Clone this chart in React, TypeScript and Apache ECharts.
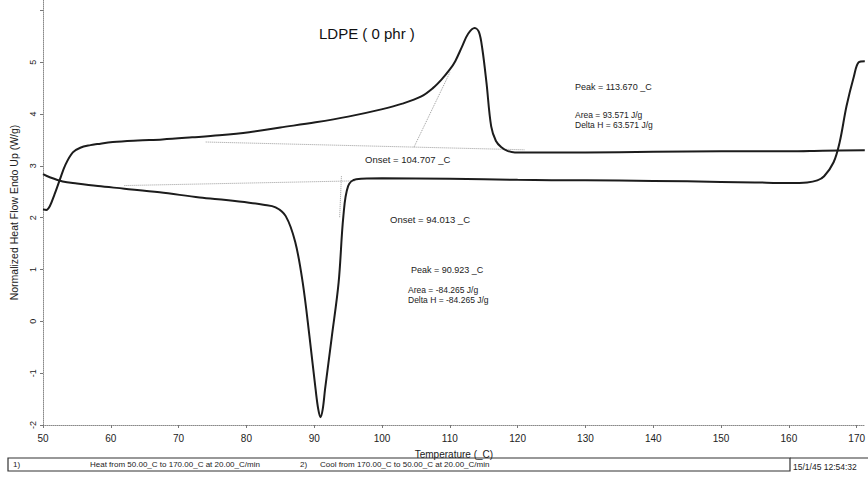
import React, { useEffect, useRef } from "react";
import * as echarts from "echarts";

// Heating scan (50 -> 170 °C), normalized heat flow, endo up
const heatTemp = [
  50.0, 50.5, 51.0, 51.7, 52.5, 53.3, 54.4, 55.5, 57.0, 58.0, 60.3, 64.0, 67.6, 72.0, 76.0,
  80.4, 85.0, 90.2, 95.0, 99.9, 103.0, 105.8, 107.5, 108.8, 110.0, 110.8, 111.8, 112.7,
  113.67, 114.3, 114.8, 115.4, 116.1, 116.8, 117.6, 118.5, 119.6, 121.5, 130.0, 140.0,
  150.0, 160.0, 165.0, 171.2,
];
const heatFlow = [
  2.16, 2.15, 2.22, 2.45, 2.74, 3.02, 3.26, 3.35, 3.4, 3.42, 3.46, 3.49, 3.51, 3.55, 3.59,
  3.65, 3.74, 3.84, 3.95, 4.09, 4.2, 4.34, 4.5, 4.67, 4.86, 5.02, 5.3, 5.55,
  5.66, 5.58, 5.25, 4.61, 3.76, 3.48, 3.36, 3.29, 3.26, 3.26, 3.26, 3.27,
  3.28, 3.28, 3.29, 3.3,
];

// Cooling scan (170 -> 50 °C)
const coolTemp = [
  50.0, 51.0, 52.9, 55.0, 58.1, 62.0, 67.2, 73.1, 77.0, 80.4, 82.5, 84.3, 85.8, 87.2,
  88.3, 89.3, 90.2, 90.6, 90.923, 91.25, 91.6, 92.6, 93.6, 94.3, 95.0, 96.2, 100.0,
  110.0, 120.0, 130.0, 140.0, 150.0, 155.0, 160.0, 162.7, 164.2, 165.2, 166.6, 167.5,
  168.5, 169.6, 170.3, 171.2,
];
const coolFlow = [
  2.84, 2.78, 2.7, 2.66, 2.61, 2.56, 2.49, 2.39, 2.34, 2.29, 2.25, 2.2, 2.03, 1.53,
  0.75, -0.29, -1.31, -1.7, -1.85, -1.7, -1.31, -0.29, 0.75, 2.03, 2.61, 2.74, 2.76,
  2.75, 2.73, 2.72, 2.71, 2.69, 2.68, 2.67, 2.68, 2.72, 2.8, 3.07, 3.46,
  4.15, 4.73, 5.0, 5.02,
];

// Baseline and tangent construction lines for the onset points
const heatBaseTemp = [74.0, 121.0];
const heatBaseFlow = [3.46, 3.31];
const heatTangentTemp = [104.707, 110.0];
const heatTangentFlow = [3.36, 4.8];
const coolBaseTemp = [62.0, 96.0];
const coolBaseFlow = [2.62, 2.71];
const coolTangentTemp = [94.013, 93.75];
const coolTangentFlow = [2.8, 2.0];

const yTickValues = [-2, -1, 0, 1, 2, 3, 4, 5];

const heatNotes = ["Peak = 113.670 _C", "Area = 93.571 J/g", "Delta H = 63.571 J/g"];
const heatOnsetNote = "Onset = 104.707 _C";
const coolOnsetNote = "Onset = 94.013 _C";
const coolNotes = ["Peak = 90.923 _C", "Area = -84.265 J/g", "Delta H = -84.265 J/g"];
const methodSteps = [
  "1)",
  "Heat from 50.00_C to 170.00_C at 20.00_C/min",
  "2)",
  "Cool from 170.00_C to 50.00_C at 20.00_C/min",
];
const stamp = "15/1/45 12:54:32";

const FONT = "'Liberation Sans', Arial, sans-serif";

const zip = (xs: number[], ys: number[]) => xs.map((x, i) => [x, ys[i]]);

function curve(name: string, xs: number[], ys: number[]) {
  return {
    name,
    type: "line",
    data: zip(xs, ys),
    showSymbol: false,
    symbol: "none",
    smooth: 0.35,
    lineStyle: { color: "#1c1c1c", width: 2 },
    z: 5,
  };
}

function guide(name: string, xs: number[], ys: number[]) {
  return {
    name,
    type: "line",
    data: zip(xs, ys),
    showSymbol: false,
    symbol: "none",
    lineStyle: { color: "#9a9a9a", width: 1, type: "dotted" },
    z: 3,
  };
}

function note(text: string, x: number, y: number, size = 9.5) {
  return {
    type: "text",
    left: x,
    top: y - size / 2 - 1,
    style: { text, fill: "#222", font: `${size}px ${FONT}` },
  };
}

export default function App() {
  const ref = useRef<HTMLDivElement>(null);

  useEffect(() => {
    if (!ref.current) return;
    const chart = echarts.init(ref.current, null, { renderer: "svg" });
    chart.setOption({
      animation: false,
      backgroundColor: "#ffffff",
      title: {
        text: "LDPE ( 0 phr )",
        left: 314,
        top: 21,
        textStyle: { fontFamily: FONT, fontSize: 15, fontWeight: "normal", color: "#111" },
      },
      grid: { left: 43, right: 0, top: 0, bottom: 70 },
      xAxis: {
        type: "value",
        min: 50,
        max: 171.2,
        interval: 10,
        name: "Temperature (_C)",
        nameLocation: "middle",
        nameGap: 24,
        nameTextStyle: { fontFamily: FONT, fontSize: 10, color: "#222" },
        axisLine: {
          show: true,
          onZero: false,
          lineStyle: { color: "#8a8a8a", type: "dotted", width: 1 },
        },
        axisTick: { show: true, length: 3, lineStyle: { color: "#777" } },
        axisLabel: {
          fontFamily: FONT,
          fontSize: 10,
          color: "#222",
          margin: 8,
          showMaxLabel: false,
          formatter: (v: number) => (Math.abs(v % 10) < 1e-6 ? String(v) : ""),
        },
        splitLine: { show: false },
      },
      yAxis: {
        type: "value",
        min: -2,
        max: 6.2,
        interval: 1,
        name: "Normalized Heat Flow Endo Up (W/g)",
        nameLocation: "middle",
        nameGap: 24,
        nameRotate: 90,
        nameTextStyle: { fontFamily: FONT, fontSize: 10.5, color: "#222" },
        axisLine: {
          show: true,
          onZero: false,
          lineStyle: { color: "#8a8a8a", type: "dotted", width: 1 },
        },
        axisTick: { show: true, length: 3, lineStyle: { color: "#777" } },
        axisLabel: {
          fontFamily: FONT,
          fontSize: 9,
          color: "#222",
          rotate: 90,
          margin: 6,
          showMaxLabel: false,
          formatter: (v: number) => (yTickValues.includes(v) ? String(v) : ""),
        },
        splitLine: { show: false },
      },
      series: [
        guide("heatBase", heatBaseTemp, heatBaseFlow),
        guide("heatTangent", heatTangentTemp, heatTangentFlow),
        guide("coolBase", coolBaseTemp, coolBaseFlow),
        guide("coolTangent", coolTangentTemp, coolTangentFlow),
        curve("Heat", heatTemp, heatFlow),
        curve("Cool", coolTemp, coolFlow),
      ],
      graphic: [
        note(heatNotes[0], 575, 88, 9),
        note(heatNotes[1], 575, 116, 8.5),
        note(heatNotes[2], 575, 126, 8.5),
        note(heatOnsetNote, 365, 160),
        note(coolOnsetNote, 390, 220),
        note(coolNotes[0], 411, 271, 9),
        note(coolNotes[1], 408, 291, 8.5),
        note(coolNotes[2], 408, 301, 8.5),
        {
          type: "rect",
          shape: { x: 8, y: 458, width: 782, height: 13 },
          style: { fill: "none", stroke: "#333", lineWidth: 1.2 },
        },
        {
          type: "line",
          shape: { x1: 790, y1: 458, x2: 868, y2: 458 },
          style: { stroke: "#333", lineWidth: 1.2 },
        },
        note(methodSteps[0], 13, 465, 8),
        note(methodSteps[1], 90, 465, 8),
        note(methodSteps[2], 300, 465, 8),
        note(methodSteps[3], 320, 465, 8),
        note(stamp, 793, 468, 8.5),
      ],
    });
    return () => chart.dispose();
  }, []);

  return (
    <div
      ref={ref}
      style={{ position: "fixed", left: 0, top: 0, width: 868, height: 495 }}
    />
  );
}
